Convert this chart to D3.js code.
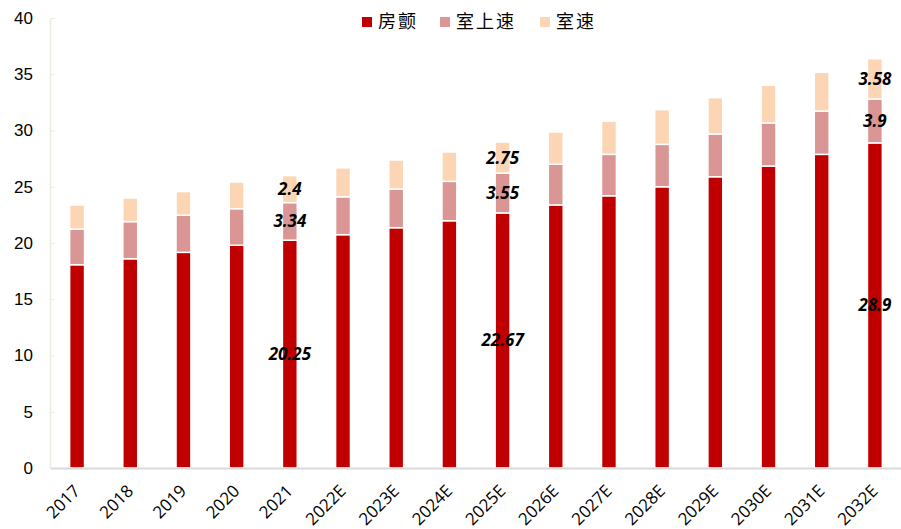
<!DOCTYPE html>
<html lang="zh">
<head>
  <meta charset="UTF-8">
  <title>Stacked bars</title>
  <script src="https://d3js.org/d3.v7.min.js"></script>
  <style>
    body { margin: 0; background: #fff; }
    svg { display: block; }
  </style>
</head>
<body>
<div class="main"></div>
<script>

  const years = ["2017","2018","2019","2020","2021","2022E","2023E","2024E","2025E","2026E","2027E","2028E","2029E","2030E","2031E","2032E"];
  const af   = [18.07, 18.6, 19.17, 19.8, 20.25, 20.74, 21.36, 21.98, 22.67, 23.38, 24.2, 25.0, 25.89, 26.84, 27.88, 28.9];
  const svt  = [3.17, 3.3, 3.3, 3.25, 3.34, 3.37, 3.44, 3.5, 3.55, 3.62, 3.68, 3.77, 3.8, 3.83, 3.85, 3.9];
  const vt   = [2.14, 2.1, 2.1, 2.37, 2.4, 2.57, 2.58, 2.61, 2.75, 2.87, 2.96, 3.08, 3.23, 3.35, 3.44, 3.58];
  const seriesNames = ["房颤", "室上速", "室速"];
  const colors = ["#C00000", "#DA9694", "#FCD5B4"];
  const labelledYears = ["2021", "2025E", "2032E"];
  const yTicks = [0, 5, 10, 15, 20, 25, 30, 35, 40];

  let width = 901, height = 529;

  let svg = d3.select(".main").append("svg")
          .attr("width", width)
          .attr("height", height);

  let rows = years.map((y, i) => ({year: y, af: af[i], svt: svt[i], vt: vt[i]}));
  let stack = d3.stack().keys(["af", "svt", "vt"])(rows);

  let xScale = d3.scaleBand().domain(years).range([50.5, 901.5]).paddingInner(0.72).paddingOuter(0.36);
  let yScale = d3.scaleLinear().domain([0, 40]).range([468, 18]);

  // y axis
  let yAxis = d3.axisLeft(yScale).tickValues(yTicks).tickSize(0).tickPadding(17);
  let gy = svg.append("g").attr("transform", "translate(50,0)").call(yAxis);
  gy.select(".domain").attr("stroke", "#eeeae0").attr("stroke-width", 1.5);
  gy.selectAll("text").style("font-family", "Liberation Sans, Arial, sans-serif").style("font-size", "17px").attr("fill", "#000");
  gy.selectAll(".tick").append("line").attr("x1", 0).attr("x2", 5).attr("stroke", "#eeeae0");

  // bars
  svg.append("g").selectAll("g")
          .data(stack)
          .join("g")
          .attr("fill", (d, i) => colors[i])
          .selectAll("rect")
          .data(d => d)
          .join("rect")
          .attr("x", d => xScale(d.data.year))
          .attr("width", xScale.bandwidth())
          .attr("y", d => yScale(d[1]))
          .attr("height", d => yScale(d[0]) - yScale(d[1]))
          .attr("stroke", "#fff")
          .attr("stroke-width", 1.5);

  // x axis
  let xAxis = d3.axisBottom(xScale).tickSize(0).tickPadding(0);
  let gx = svg.append("g").attr("transform", "translate(0,468)").call(xAxis);
  gx.select(".domain").attr("stroke", "#d9d9d9").attr("stroke-width", 2);
  gx.selectAll("text")
          .style("font-family", "Open Sans, Liberation Sans, sans-serif")
          .style("font-size", "17px")
          .attr("fill", "#000")
          .attr("text-anchor", "end")
          .attr("y", 0)
          .attr("dy", 0)
          .attr("transform", "translate(4,24) rotate(-45)");

  // value labels
  let labels = svg.append("g");
  stack.forEach(layer => {
    layer.forEach(d => {
      if (labelledYears.indexOf(d.data.year) < 0) return;
      labels.append("text")
              .attr("x", xScale(d.data.year) + xScale.bandwidth() / 2)
              .attr("y", yScale((d[0] + d[1]) / 2))
              .attr("dy", "0.35em")
              .attr("text-anchor", "middle")
              .style("font-family", "Open Sans, Liberation Sans, sans-serif")
              .style("font-size", "17px")
              .style("font-weight", "bold")
              .style("font-style", "italic")
              .text(d.data[layer.key]);
    });
  });

  // legend
  let legendX = [362, 440, 540];
  let legend = svg.append("g");
  seriesNames.forEach((name, i) => {
    legend.append("rect").attr("x", legendX[i]).attr("y", 17).attr("width", 10).attr("height", 10).attr("fill", colors[i]);
    legend.append("text").attr("x", legendX[i] + 16).attr("y", 22).attr("dy", "0.35em")
            .style("font-family", "Noto Sans CJK SC, sans-serif")
            .style("font-size", "18px")
            .style("letter-spacing", "2px")
            .text(name);
  });

</script>
</body>
</html>
